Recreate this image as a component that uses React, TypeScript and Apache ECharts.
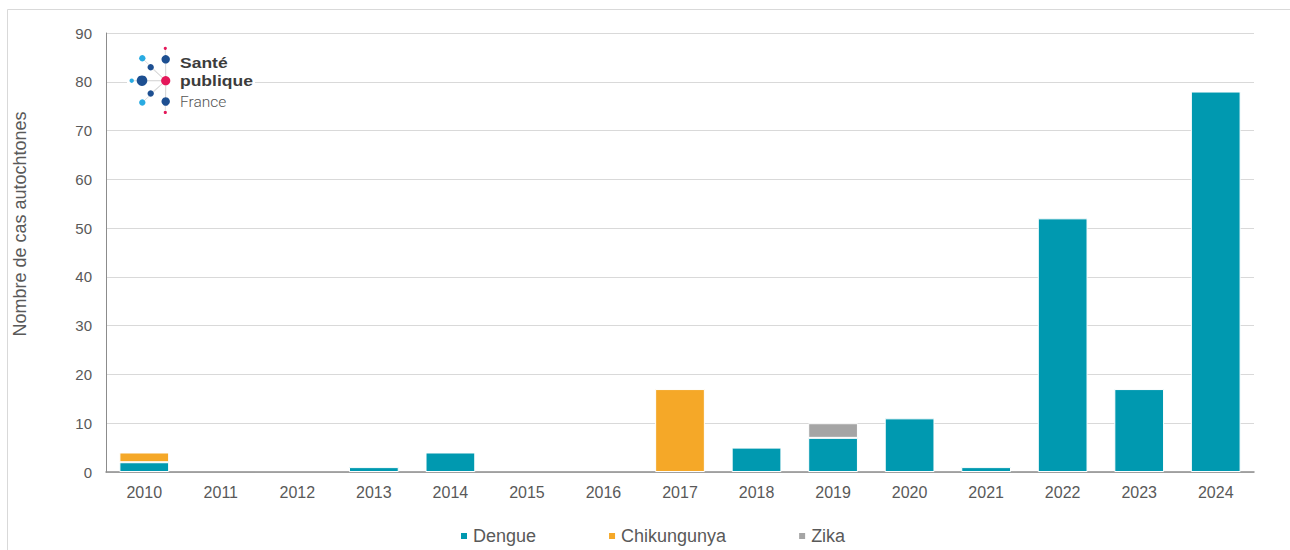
import React, { useEffect, useRef } from "react";
import * as echarts from "echarts";

const years = ["2010","2011","2012","2013","2014","2015","2016","2017","2018","2019","2020","2021","2022","2023","2024"];
const dengue = [2, 0, 0, 1, 4, 0, 0, 0, 5, 7, 11, 1, 52, 17, 78];
const chikungunya = [2, 0, 0, 0, 0, 0, 0, 17, 0, 0, 0, 0, 0, 0, 0];
const zika = [0, 0, 0, 0, 0, 0, 0, 0, 0, 3, 0, 0, 0, 0, 0];
const yTicks = { min: 0, max: 90, interval: 10 };
const yTitle = "Nombre de cas autochtones";

const TEXT = "#595959";
const FONT = "'Liberation Sans', Arial, sans-serif";

const nz = (a: number[]) => a.map((v) => (v === 0 ? null : v));

export default function App() {
  const ref = useRef<HTMLDivElement>(null);
  useEffect(() => {
    if (!ref.current) return;
    const chart = echarts.init(ref.current, null, { renderer: "svg" });
    const cx = 165.7, cy = 80.7;
    const dots = [
      { x: 165.3, y: 48.3, r: 1.6, c: "#e4185a" },
      { x: 142.3, y: 58.3, r: 3.2, c: "#29abe2" },
      { x: 165.7, y: 59.3, r: 4.2, c: "#1d4f91" },
      { x: 150.7, y: 67.3, r: 3.2, c: "#1d4f91" },
      { x: 131.7, y: 80.7, r: 2.2, c: "#29abe2" },
      { x: 142.0, y: 80.7, r: 5.3, c: "#1d4f91" },
      { x: 150.7, y: 93.5, r: 3.2, c: "#1d4f91" },
      { x: 142.3, y: 102.5, r: 3.2, c: "#29abe2" },
      { x: 165.7, y: 101.5, r: 4.2, c: "#1d4f91" },
      { x: 165.3, y: 112.5, r: 1.6, c: "#e4185a" },
    ];
    const logoFont = "'Liberation Sans', Arial, sans-serif";
    const logo: any[] = [
      { type: "rect", shape: { x: 127, y: 44, width: 128, height: 72 }, style: { fill: "#fff" }, z: 10 },
      ...dots.map((d) => ({
        type: "line",
        shape: { x1: cx, y1: cy, x2: d.x, y2: d.y },
        style: { stroke: "#d6d6d6", lineWidth: 0.8 },
        z: 11,
      })),
      ...dots.map((d) => ({
        type: "circle",
        shape: { cx: d.x, cy: d.y, r: d.r },
        style: { fill: d.c },
        z: 12,
      })),
      { type: "circle", shape: { cx, cy, r: 4.6 }, style: { fill: "#e4185a" }, z: 12 },
      { type: "text", x: 180, y: 63.3, scaleX: 1.13, z: 12, style: { text: "Santé", fontSize: 15.5, lineHeight: 15, fontWeight: "bold", fontFamily: logoFont, fill: "#3c3c3c", verticalAlign: "middle" } },
      { type: "text", x: 180, y: 81.2, scaleX: 1.13, z: 12, style: { text: "publique", fontSize: 15.5, lineHeight: 15, fontWeight: "bold", fontFamily: logoFont, fill: "#3c3c3c", verticalAlign: "middle" } },
      { type: "text", x: 180, y: 102, z: 12, style: { text: "France", fontSize: 15.5, lineHeight: 14, fontWeight: 300, fontFamily: "Roboto, sans-serif", fill: "#555", verticalAlign: "middle" } },
    ];
    chart.setOption({
      animation: false,
      backgroundColor: "#fff",
      grid: { left: 106, right: 36, top: 33, bottom: 78, containLabel: false },
      graphic: [
        { type: "rect", shape: { x: 7.5, y: 9.5, width: 1400, height: 700 }, style: { fill: "none", stroke: "#d9d9d9", lineWidth: 1 }, z: -1 },
        {
          type: "text",
          x: 20,
          y: 224,
          rotation: Math.PI / 2,
          style: { text: yTitle, fontSize: 18, fill: TEXT, fontFamily: FONT, align: "center", verticalAlign: "middle" },
        },
        ...logo,
      ],
      legend: {
        left: 459,
        top: 527,
        padding: 0,
        itemWidth: 8,
        itemHeight: 8,
        itemGap: 71,
        icon: "rect",
        textStyle: { fontSize: 18, color: TEXT, fontFamily: FONT, padding: [0, 0, 0, 0] },
        data: ["Dengue", "Chikungunya", "Zika"],
      },
      xAxis: {
        type: "category",
        data: years,
        axisLine: { lineStyle: { color: "#8c8c8c", width: 1.5 } },
        axisTick: { show: false },
        axisLabel: { fontSize: 16, color: TEXT, fontFamily: FONT, margin: 12 },
      },
      yAxis: {
        type: "value",
        min: yTicks.min,
        max: yTicks.max,
        interval: yTicks.interval,
        axisLine: { show: true, lineStyle: { color: "#8c8c8c", width: 1 } },
        axisTick: { show: false },
        splitLine: { lineStyle: { color: "#d9d9d9", width: 1 } },
        axisLabel: { fontSize: 15, color: TEXT, fontFamily: FONT, margin: 14 },
      },
      series: [
        { name: "Dengue", type: "bar", stack: "t", data: nz(dengue), barCategoryGap: "35%", itemStyle: { color: "#0099b0", borderColor: "#fff", borderWidth: 1 } },
        { name: "Chikungunya", type: "bar", stack: "t", data: nz(chikungunya), itemStyle: { color: "#f5a828", borderColor: "#fff", borderWidth: 1 } },
        { name: "Zika", type: "bar", stack: "t", data: nz(zika), itemStyle: { color: "#a5a5a5", borderColor: "#fff", borderWidth: 1 } },
      ],
    });
    return () => chart.dispose();
  }, []);
  return <div ref={ref} style={{ position: "absolute", left: 0, top: 0, width: 1290, height: 550 }} />;
}
